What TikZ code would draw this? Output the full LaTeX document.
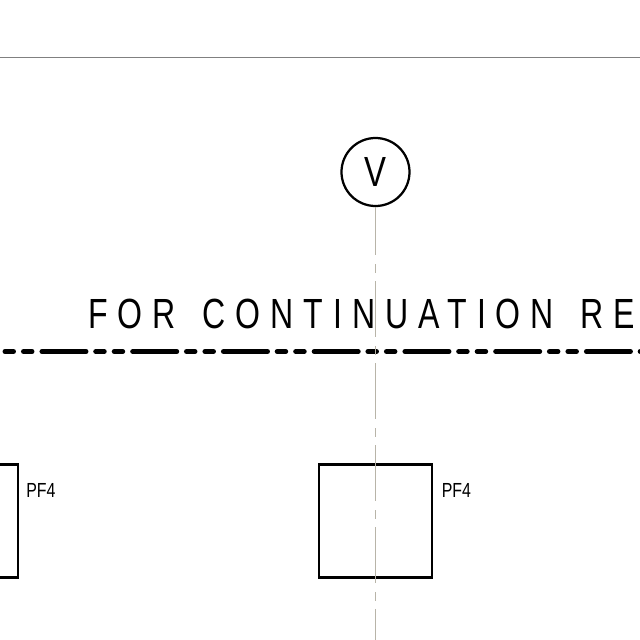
\documentclass[tikz,border=0pt]{standalone}
\usepackage{fontspec}
\setmainfont{Liberation Sans}
\newfontfamily\titlefont[FakeStretch=0.76,LetterSpace=23.7,WordSpace=1.4]{Liberation Sans}
\newfontfamily\tagfont[FakeStretch=0.78]{Liberation Sans}
\definecolor{axisgray}{RGB}{184,180,168}
\tikzset{
	x=0.025cm, y=-0.025cm,
	panel/.style={draw, line width=1.7pt, minimum size=2.825cm, inner sep=0pt},
	tagtext/.style={inner sep=0pt, font=\tagfont\fontsize{14.5pt}{16pt}\selectfont},
	bigtext/.style={inner sep=0pt, font=\titlefont\fontsize{30pt}{32pt}\selectfont},
	axisline/.style={color=axisgray, line width=0.7pt, dash pattern=on 39.8pt off 6.4pt on 6.4pt off 5.69pt, dash phase=5.69pt},
	limitline/.style={line width=3.55pt, line cap=round, dash pattern=on 6.04pt off 7.11pt on 6.04pt off 7.11pt on 31.3pt off 6.93pt}
}

\begin{document}
\begin{tikzpicture}
	\useasboundingbox (0, 0) rectangle (640, 640);
	\coordinate (topL) at (0, 57);
	\coordinate (topR) at (640, 57);
	\draw[gray, line width=0.6pt] (topL) -- (topR);
	\node[bigtext, anchor=base west] (title) at (88, 328) {FOR CONTINUATION RE};
	\coordinate (limitL) at (5, 351.5);
	\coordinate (limitR) at (648, 351.5);
	\draw[limitline] (limitL) -- (limitR);
	\foreach \n/\c/\o in {a/-38.5/64.5, b/375.5/66}{
		\node[panel] (panel\n) at (\c, 521) {};
		\node[tagtext, anchor=base west] (tag\n) at (\c+\o, 497) {PF4};
	}
	\node[draw, circle, line width=1.6pt, minimum size=1.7cm, inner sep=0pt, font=\tagfont\fontsize{30pt}{32pt}\selectfont] (volt) at (375.5, 172) {V};
	\coordinate (axisend) at (375.5, 640);
	\draw[axisline] (volt.south) -- (axisend);
\end{tikzpicture}
\end{document}
